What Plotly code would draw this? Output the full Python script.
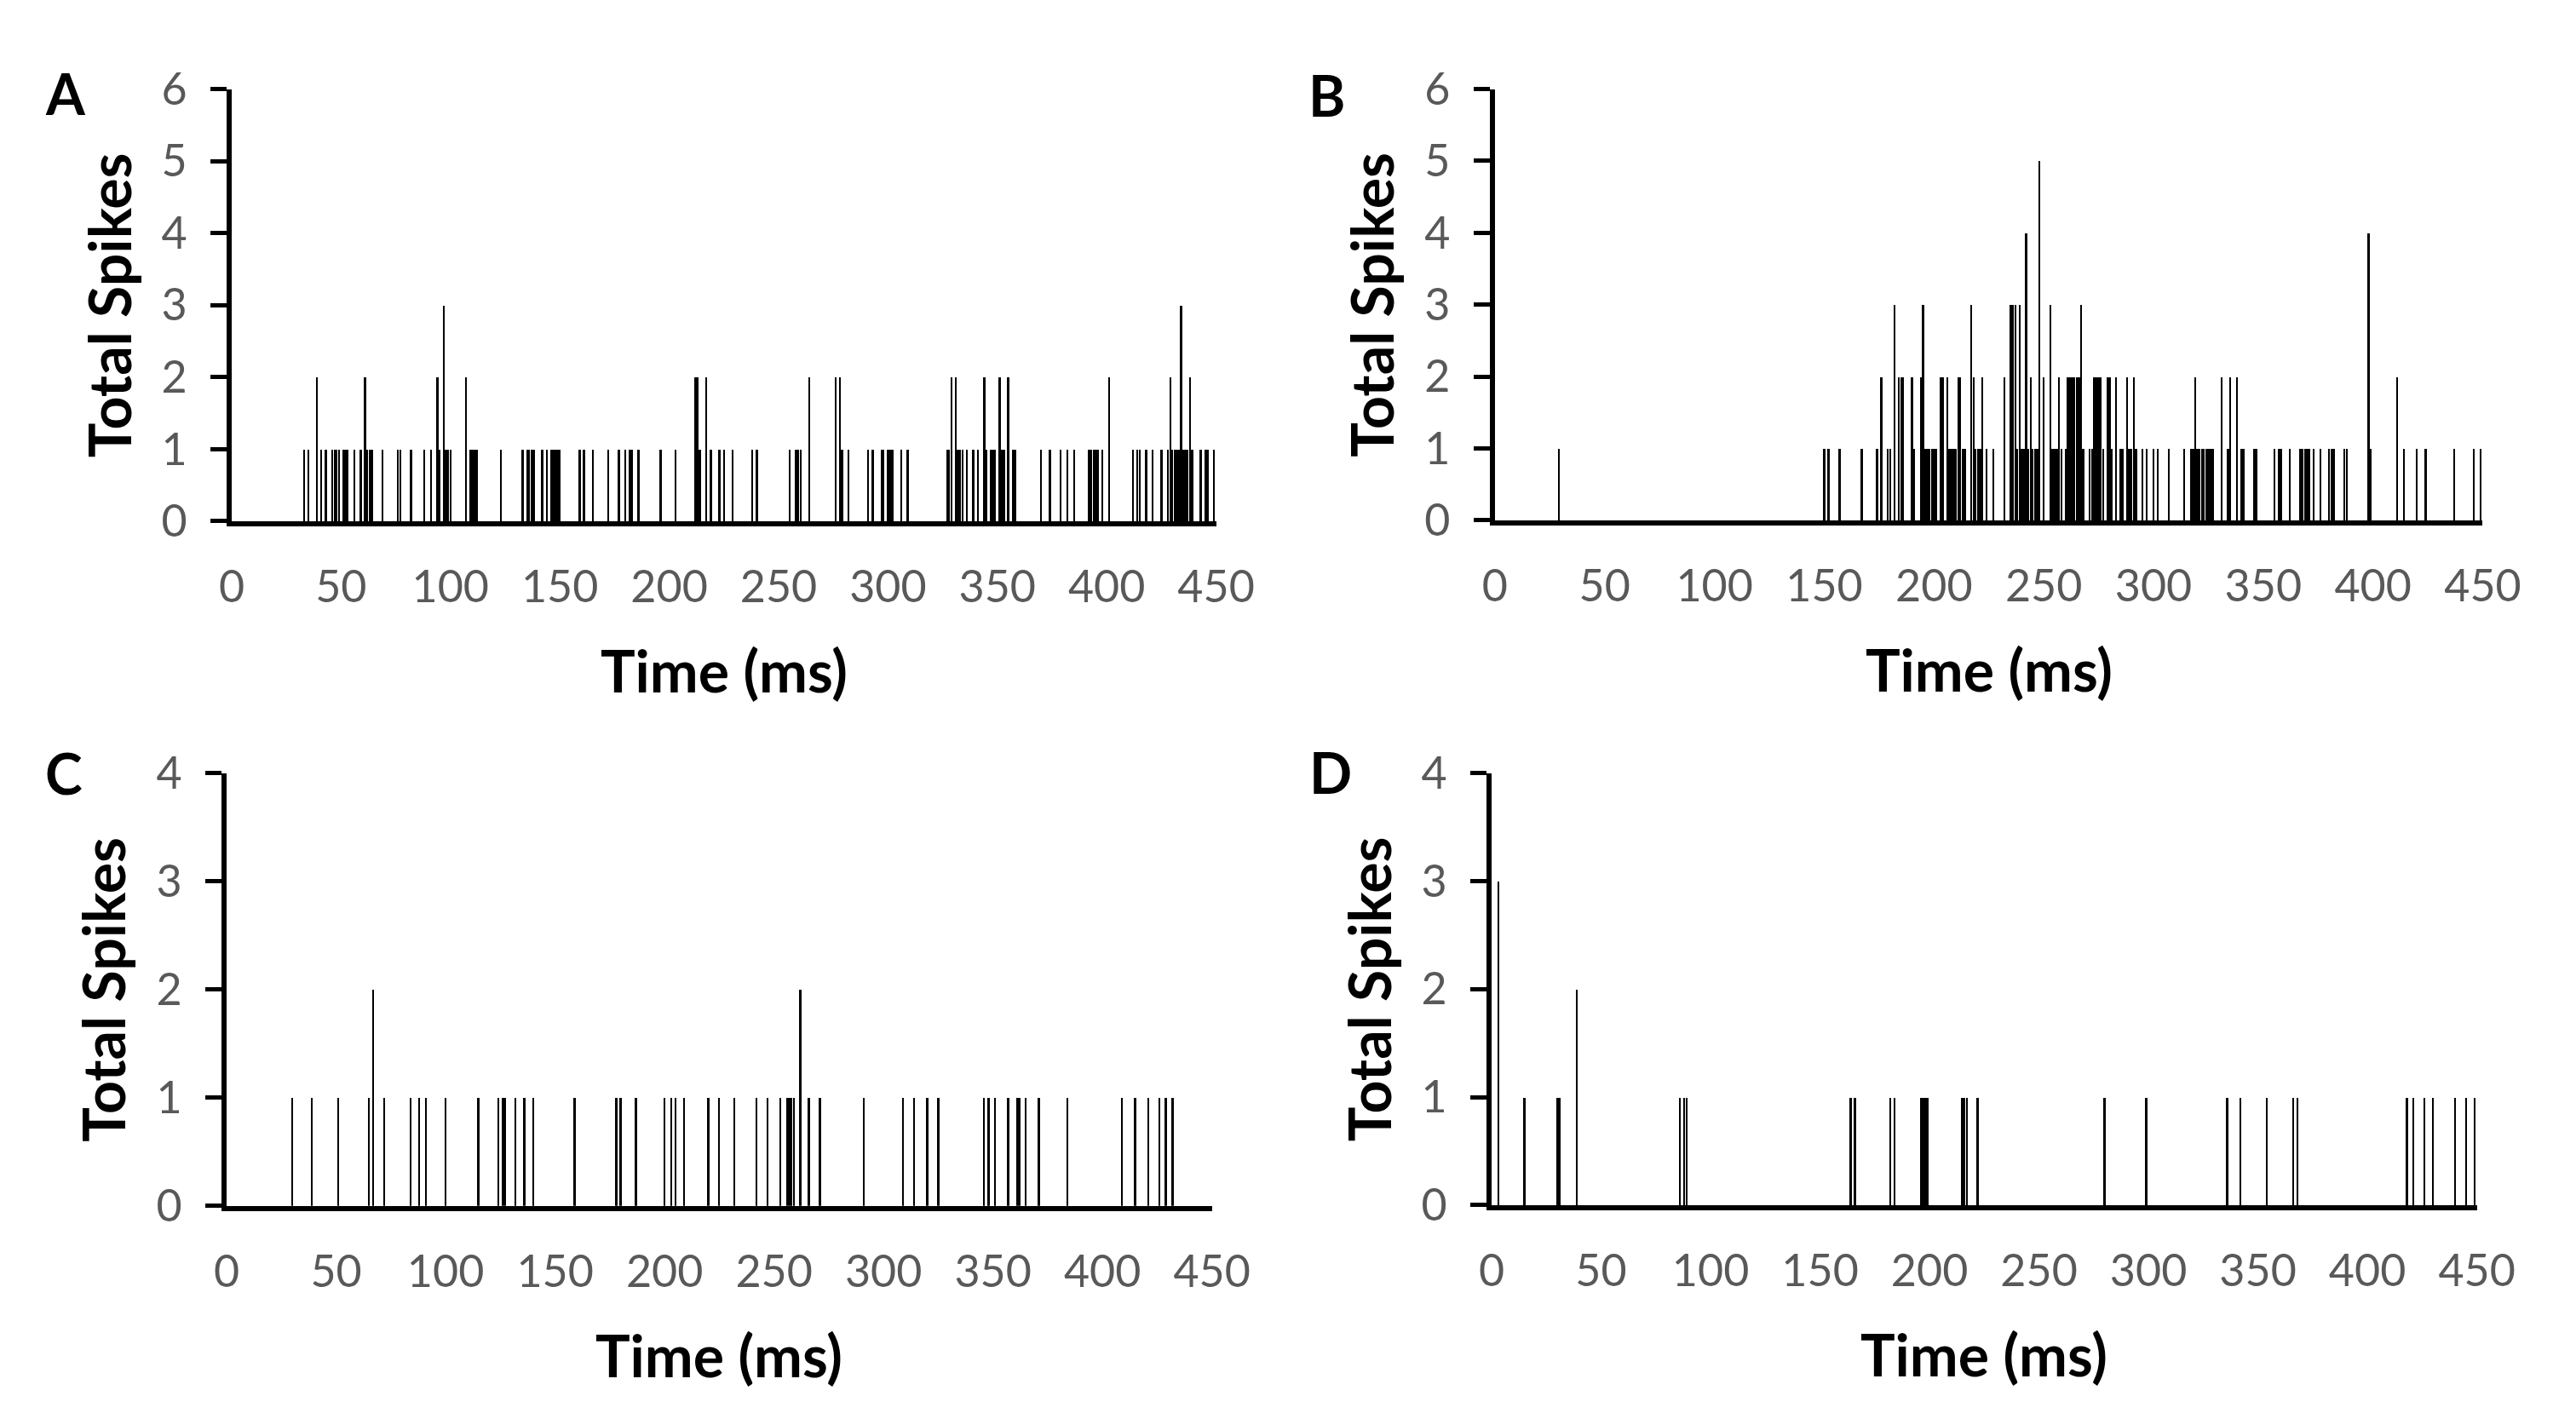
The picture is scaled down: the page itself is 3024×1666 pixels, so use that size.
import plotly.graph_objects as go

# ---- data (time bin in ms, total spikes in that bin) ----
times_A = [33, 35, 39, 41, 43, 46, 47, 48, 49, 51, 52, 53, 56, 59, 61, 62, 63, 64, 69, 76, 77, 82, 88, 91,
           94, 95, 97, 98, 99, 100, 107, 109, 110, 111, 112, 123, 133, 135, 136, 137, 138, 142, 144, 146,
           147, 148, 149, 150, 159, 161, 165, 172, 177, 180, 182, 183, 186, 196, 203, 212, 213, 214, 217,
           219, 223, 225, 229, 238, 240, 255, 258, 259, 260, 264, 276, 278, 279, 282, 291, 293, 297, 298,
           300, 301, 302, 306, 309, 327, 328, 329, 331, 332, 333, 334, 336, 339, 341, 344, 345, 347, 348,
           349, 351, 352, 353, 355, 357, 358, 370, 374, 379, 382, 385, 392, 393, 394, 395, 396, 398, 401,
           412, 414, 415, 418, 421, 425, 428, 429, 430, 431, 432, 433, 434, 435, 436, 437, 438, 439, 443,
           445, 446, 449]
counts_A = [1, 1, 2, 1, 1, 1, 1, 1, 1, 1, 1, 1, 1, 1, 2, 1, 1, 1, 1, 1, 1, 1, 1, 1,
            2, 1, 3, 1, 1, 1, 2, 1, 1, 1, 1, 1, 1, 1, 1, 1, 1, 1, 1, 1,
            1, 1, 1, 1, 1, 1, 1, 1, 1, 1, 1, 1, 1, 1, 1, 2, 2, 1, 2,
            1, 1, 1, 1, 1, 1, 1, 1, 1, 1, 2, 2, 2, 1, 1, 1, 1, 1, 1,
            1, 1, 1, 1, 1, 1, 1, 2, 2, 1, 1, 1, 1, 1, 1, 2, 1, 1, 1,
            1, 2, 1, 1, 2, 1, 1, 1, 1, 1, 1, 1, 1, 1, 1, 1, 1, 1, 2,
            1, 1, 1, 1, 1, 1, 1, 2, 1, 1, 1, 1, 3, 1, 1, 1, 2, 1, 1,
            1, 1, 1]

times_B = [29, 150, 152, 157, 167, 174, 176, 179, 180, 182, 184, 185, 186, 190, 191, 194, 195, 196, 197,
           198, 199, 200, 201, 203, 204, 206, 207, 208, 209, 210, 211, 212, 213, 214, 217, 218, 219, 220,
           221, 222, 224, 227, 232, 235, 236, 237, 238, 239, 240, 241, 242, 243, 244, 245, 246, 247, 248,
           250, 253, 254, 255, 256, 257, 258, 260, 261, 262, 263, 264, 265, 266, 267, 268, 271, 272, 273,
           274, 275, 276, 277, 279, 280, 281, 283, 285, 286, 288, 289, 290, 291, 292, 295, 297, 300, 302,
           307, 314, 317, 318, 319, 320, 321, 322, 323, 324, 325, 326, 327, 331, 334, 335, 338, 340, 341,
           346, 347, 355, 357, 358, 362, 367, 368, 369, 370, 371, 373, 376, 380, 381, 382, 387, 388, 398,
           399, 411, 414, 420, 424, 437, 446, 449]
counts_B = [1, 1, 1, 1, 1, 1, 2, 1, 1, 3, 2, 2, 2, 2, 1, 2, 3, 1, 1,
            1, 1, 1, 1, 2, 2, 2, 1, 1, 1, 1, 2, 2, 1, 1, 3, 2, 1, 1,
            1, 2, 1, 1, 2, 3, 3, 3, 1, 3, 1, 1, 4, 1, 2, 1, 1, 1, 5,
            2, 3, 1, 1, 1, 2, 1, 1, 2, 2, 2, 2, 2, 2, 3, 1, 1, 1, 2,
            2, 2, 2, 1, 2, 2, 1, 2, 1, 1, 2, 1, 1, 2, 1, 1, 1, 1, 1,
            1, 1, 1, 1, 2, 1, 1, 1, 1, 1, 1, 1, 1, 2, 1, 2, 2, 1, 1,
            1, 1, 1, 1, 1, 1, 1, 1, 1, 1, 1, 1, 1, 1, 1, 1, 1, 1, 4,
            1, 2, 1, 1, 1, 1, 1, 1]

times_C = [30, 39, 51, 65, 67, 72, 84, 88, 91, 100, 115, 124, 126, 127, 132, 136, 140, 159, 178, 180,
           187, 200, 203, 205, 209, 220, 225, 232, 242, 247, 253, 256, 257, 258, 259, 262, 266, 271, 291,
           309, 314, 320, 325, 346, 348, 351, 357, 361, 362, 365, 371, 384, 409, 415, 421, 426, 429, 432]
counts_C = [1, 1, 1, 1, 2, 1, 1, 1, 1, 1, 1, 1, 1, 1, 1, 1, 1, 1, 1, 1,
            1, 1, 1, 1, 1, 1, 1, 1, 1, 1, 1, 1, 1, 1, 1, 2, 1, 1, 1,
            1, 1, 1, 1, 1, 1, 1, 1, 1, 1, 1, 1, 1, 1, 1, 1, 1, 1, 1]

times_D = [3, 15, 30, 31, 39, 86, 88, 89, 164, 166, 182, 184, 196, 197, 198, 199, 215, 216, 217, 222,
           280, 299, 336, 342, 354, 366, 368, 418, 421, 426, 430, 440, 445, 449]
counts_D = [3, 1, 1, 1, 2, 1, 1, 1, 1, 1, 1, 1, 1, 1, 1, 1, 1, 1, 1, 1,
            1, 1, 1, 1, 1, 1, 1, 1, 1, 1, 1, 1, 1, 1]

panel_letters = ["A", "B", "C", "D"]
x_ticks = [0, 50, 100, 150, 200, 250, 300, 350, 400, 450]
y_max = [6, 6, 4, 4]
x_title = "Time (ms)"
y_title = "Total Spikes"

# ---- layout geometry (pixels) ----
W, H = 3024, 1666
# left, right, top, bottom of each plot area
boxes = [(254, 1433, 66, 593), (1767, 2950, 66, 592),
         (248, 1428, 900, 1428), (1763, 2943, 900, 1427)]
letter_pos = [(55, 71), (1566, 73), (53, 900), (1570, 899)]

FONT = "Lato"
fig = go.Figure()
series = [(times_A, counts_A), (times_B, counts_B), (times_C, counts_C), (times_D, counts_D)]

for i, (t, c) in enumerate(series):
    sfx = "" if i == 0 else str(i + 1)
    fig.add_trace(go.Bar(x=t, y=c, width=0.92, marker=dict(color="black", line=dict(width=0)),
                         xaxis="x" + sfx, yaxis="y" + sfx, showlegend=False))
    l, r, tp, bt = boxes[i]
    fig.layout["xaxis" + sfx] = dict(
        domain=[l / W, r / W], anchor="y" + sfx, range=[0, 450], tickvals=x_ticks,
        showline=True, linecolor="black", linewidth=6, showgrid=False, zeroline=False,
        ticks="outside", ticklen=27, tickcolor="rgba(0,0,0,0)",
        tickfont=dict(family=FONT, size=52, color="#595959"))
    fig.layout["yaxis" + sfx] = dict(
        domain=[1 - bt / H, 1 - tp / H], anchor="x" + sfx, range=[0, y_max[i]], dtick=1,
        showline=True, linecolor="black", linewidth=6, showgrid=False, zeroline=False,
        ticks="outside", ticklen=19, tickwidth=5, tickcolor="black", ticklabelstandoff=17,
        tickfont=dict(family=FONT, size=52, color="#595959"))
    # axis titles
    fig.add_annotation(text=y_title, xref="paper", yref="paper", x=(l - 148) / W,
                       y=1 - (tp + bt) / 2 / H, textangle=-90, showarrow=False,
                       xanchor="center", yanchor="middle",
                       font=dict(family=FONT, size=68, color="black", weight="bold"))
    fig.add_annotation(text=x_title, xref="paper", yref="paper", x=(l + r) / 2 / W,
                       y=1 - (bt + 181) / H, showarrow=False, xanchor="center", yanchor="middle",
                       font=dict(family=FONT, size=68, color="black", weight="bold"))
    lx, ly = letter_pos[i]
    fig.add_annotation(text=panel_letters[i], xref="paper", yref="paper", x=lx / W, y=1 - ly / H,
                       showarrow=False, xanchor="center", yanchor="middle",
                       font=dict(family=FONT, size=66, color="black", weight="bold"))

fig.update_layout(width=W, height=H, margin=dict(l=0, r=0, t=0, b=0), autosize=False,
                  plot_bgcolor="white", paper_bgcolor="white", bargap=0)
fig.write_html("out.html")
